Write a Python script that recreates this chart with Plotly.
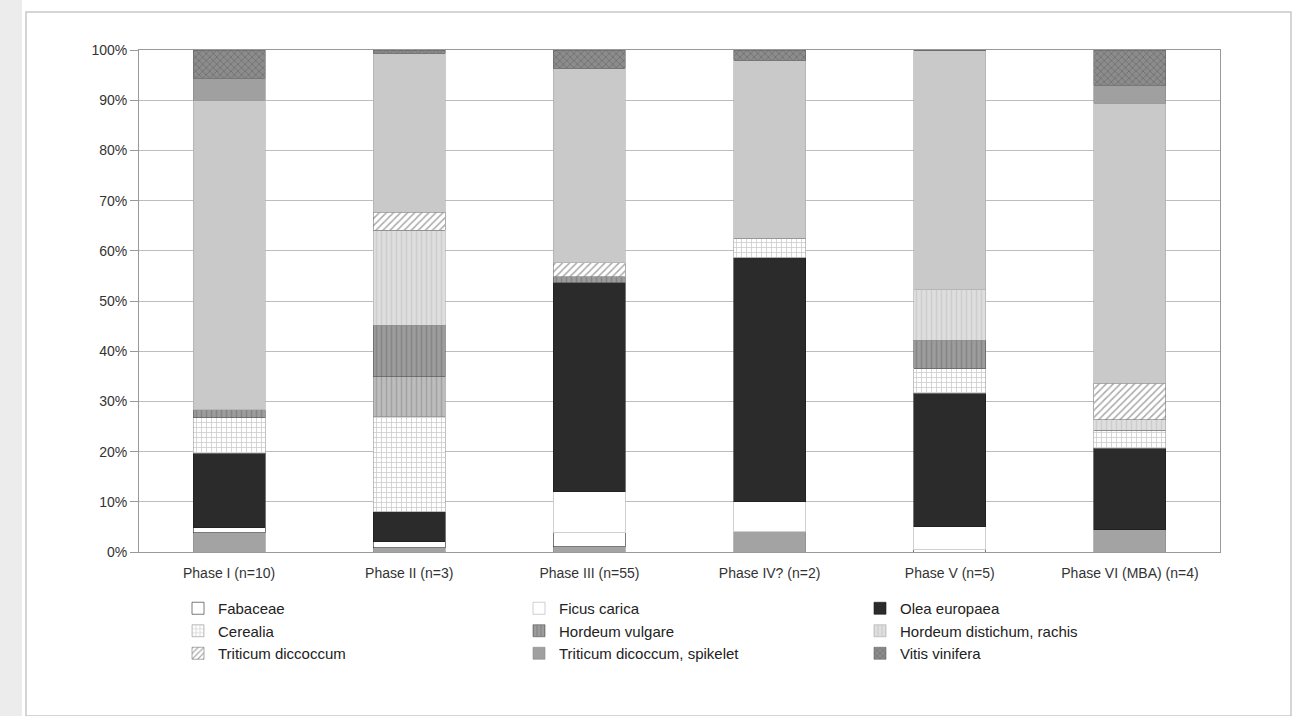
import plotly.graph_objects as go

phases = ["Phase I (n=10)", "Phase II (n=3)", "Phase III (n=55)", "Phase IV? (n=2)",
          "Phase V (n=5)", "Phase VI (MBA) (n=4)"]

# values in percent, bottom to top of stack
base_unlabelled = [3.8, 0.8, 1.0, 4.0, 0.0, 4.4]
fabaceae = [1.0, 1.2, 2.8, 0.0, 0.4, 0.0]
ficus = [0.0, 0.0, 8.2, 6.0, 4.6, 0.0]
olea = [14.9, 6.0, 41.6, 48.6, 26.6, 16.3]
cerealia = [7.0, 18.9, 0.0, 3.9, 5.0, 3.6]
mid_unlabelled = [0.0, 8.0, 0.0, 0.0, 0.0, 0.0]
hordeum_vulgare = [1.6, 10.3, 1.2, 0.0, 5.6, 0.0]
hordeum_distichum = [0.0, 18.9, 0.0, 0.0, 10.0, 2.0]
triticum_diccoccum = [0.0, 3.6, 2.8, 0.0, 0.0, 7.3]
large_unlabelled = [61.7, 31.7, 38.8, 35.5, 47.8, 55.8]
triticum_spikelet = [4.4, 0.0, 0.0, 0.0, 0.0, 3.6]
vitis = [5.6, 0.6, 3.6, 2.0, 0.0, 7.0]

y_ticks = [0, 10, 20, 30, 40, 50, 60, 70, 80, 90, 100]
y_tick_labels = ["0%", "10%", "20%", "30%", "40%", "50%", "60%", "70%", "80%", "90%", "100%"]

series = [
    # name, values, bg color, pattern shape, pattern fg, line color, show in legend
    ("Other", base_unlabelled, "#a3a3a3", "", None, "#8a8a8a", False),
    ("Fabaceae", fabaceae, "#ffffff", "", None, "#222222", True),
    ("Ficus carica", ficus, "#ffffff", "", None, "#b0b0b0", True),
    ("Olea europaea", olea, "#2b2b2b", "", None, "#1a1a1a", True),
    ("Cerealia", cerealia, "#ffffff", "+", "#9a9a9a", "#9a9a9a", True),
    ("Other cereal", mid_unlabelled, "#bdbdbd", "|", "#888888", "#8a8a8a", False),
    ("Hordeum vulgare", hordeum_vulgare, "#9c9c9c", "|", "#6e6e6e", "#555555", True),
    ("Hordeum distichum, rachis", hordeum_distichum, "#dedede", "|", "#bcbcbc", "#aaaaaa", True),
    ("Triticum diccoccum", triticum_diccoccum, "#ffffff", "/", "#555555", "#777777", True),
    ("Indeterminate", large_unlabelled, "#c9c9c9", "", None, "#aaaaaa", False),
    ("Triticum dicoccum, spikelet", triticum_spikelet, "#a0a0a0", "", None, "#8a8a8a", True),
    ("Vitis vinifera", vitis, "#8c8c8c", "x", "#555555", "#666666", True),
]

fig = go.Figure()
for name, vals, col, shape, fg, lc, show in series:
    marker = dict(color=col, line=dict(color=lc, width=0.6))
    if shape:
        marker["pattern"] = dict(shape=shape, fgcolor=fg, bgcolor=col, size=5, solidity=0.3,
                                 fillmode="overlay")
    fig.add_trace(go.Bar(x=phases, y=vals, name=name, marker=marker, showlegend=show))

W, H = 1303, 716
L, R, T, B = 139, 1220, 50, 552


def px_x(p):
    return (p - L) / (R - L)


def px_y(p):
    return (B - p) / (B - T)


fig.update_layout(
    width=W, height=H,
    barmode="stack", bargap=0.6,
    paper_bgcolor="white", plot_bgcolor="white",
    margin=dict(l=L, r=W - R, t=T, b=H - B),
    font=dict(family="Liberation Sans, Arial, sans-serif", size=14, color="#333333"),
    xaxis=dict(showline=True, linecolor="#999999", linewidth=1, ticks="outside",
               ticklen=8, tickcolor="rgba(0,0,0,0)",
               tickfont=dict(size=14, color="#333333"), mirror=True),
    yaxis=dict(range=[0, 100], tickvals=y_ticks, ticktext=y_tick_labels, showgrid=True,
               gridcolor="#bdbdbd", gridwidth=1, showline=True, linecolor="#999999",
               mirror=True, ticks="outside", ticklen=8, tickcolor="#999999",
               tickfont=dict(size=14, color="#333333"), zeroline=False),
    legend=dict(orientation="h", traceorder="normal", x=px_x(178), xanchor="left",
                y=px_y(592), yanchor="top", entrywidth=296, entrywidthmode="pixels",
                font=dict(size=15, color="#222222"), itemwidth=30, tracegroupgap=0),
    shapes=[
        dict(type="rect", xref="paper", yref="paper", x0=px_x(26), x1=px_x(1291),
             y0=px_y(716), y1=px_y(12), line=dict(color="#c8c8c8", width=1.5),
             fillcolor="rgba(0,0,0,0)", layer="below"),
        dict(type="rect", xref="paper", yref="paper", x0=px_x(0), x1=px_x(22),
             y0=px_y(716), y1=px_y(0), line=dict(width=0),
             fillcolor="#ececec", layer="below"),
    ],
)

fig.write_html("out.html")
